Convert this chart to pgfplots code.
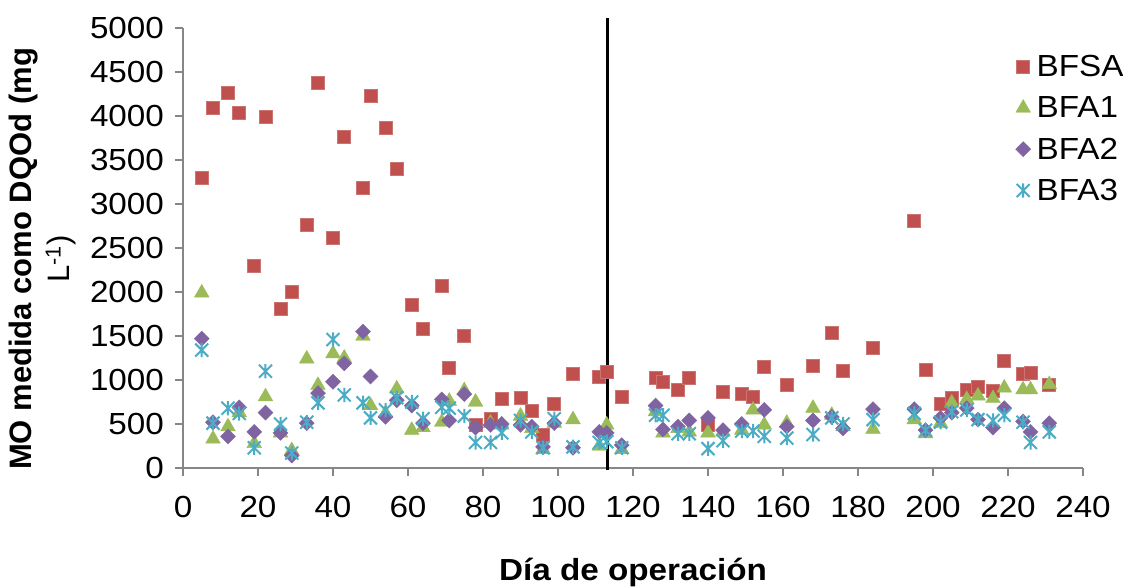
\documentclass[border=0pt]{standalone}
\usepackage{fontspec}
\setmainfont{Liberation Sans}[FakeStretch=1.09]
\newfontfamily\plainfont{Liberation Sans}
\usepackage{pgfplots}
\pgfplotsset{compat=1.18}
\definecolor{cRed}{HTML}{C0504D}
\definecolor{cGreen}{HTML}{9BBB59}
\definecolor{cPurple}{HTML}{8064A2}
\definecolor{cCyan}{HTML}{4BACC6}
\definecolor{axgray}{HTML}{868686}
\pgfdeclareplotmark{xstar}{%
 \pgfpathmoveto{\pgfqpoint{-\pgfplotmarksize}{-\pgfplotmarksize}}%
 \pgfpathlineto{\pgfqpoint{\pgfplotmarksize}{\pgfplotmarksize}}%
 \pgfpathmoveto{\pgfqpoint{-\pgfplotmarksize}{\pgfplotmarksize}}%
 \pgfpathlineto{\pgfqpoint{\pgfplotmarksize}{-\pgfplotmarksize}}%
 \pgfpathmoveto{\pgfqpoint{0pt}{-1.1\pgfplotmarksize}}%
 \pgfpathlineto{\pgfqpoint{0pt}{1.1\pgfplotmarksize}}%
 \pgfusepathqstroke}
\newcommand{\labfont}{\fontsize{30.5}{38}\selectfont}
\newcommand{\ylabfont}{\plainfont\fontsize{31}{38}\selectfont}
\newcommand{\tickfont}{\fontsize{30.5}{36}\selectfont}
\begin{document}
\begin{tikzpicture}
\begin{axis}[
  scale only axis,
  width=900pt, height=440pt,
  xmin=0, xmax=240, ymin=0, ymax=5000,
  xtick={0,20,...,240},
  ytick={0,500,...,5000},
  axis lines=left,
  axis line style={draw=axgray, line width=2pt, -},
  tick align=outside,
  major tick length=8pt,
  tick style={draw=axgray, line width=2pt},
  tick label style={font=\tickfont},
  /pgf/number format/assume math mode=true,
  /pgf/number format/set thousands separator={},
  xticklabel style={yshift=-17pt},
  yticklabel style={xshift=-7.5pt},
  xlabel={\bfseries Día de operación},
  xlabel style={font=\labfont, at={(axis description cs:0.5,0)}, anchor=base, yshift=-112pt, inner sep=0pt},
  ylabel={\bfseries MO medida como DQOd (mg\\L\textsuperscript{-1})},
  ylabel style={font=\ylabfont, align=center, at={(axis description cs:-0.1933,0.475)}, anchor=north, inner sep=0pt},
  clip=false,
  legend style={draw=none, fill=none, inner sep=0pt, font=\tickfont,
    at={(axis description cs:0.925,0.9425)}, anchor=north west, row sep=14.5pt, column sep=4pt},
  legend cell align=left,
  legend image code/.code={\draw[mark repeat=1,#1] plot coordinates {(0pt,0pt)};},
]
\addplot[only marks, mark=square*, mark size=6.5pt, color=cRed, mark options={fill=cRed, draw=cRed!80!white, line width=0.8pt}] coordinates {
(5,3300)(8,4090)(12,4260)(15,4040)(19,2300)(22,3990)(26,1810)(29,2000)(33,2760)(36,4380)(40,2610)(43,3760)(48,3180)(50,4230)(54,3870)(57,3400)(61,1850)(64,1580)(69,2070)(71,1140)(75,1500)(78,490)(82,560)(85,790)(90,800)(93,650)(96,380)(99,730)(104,1070)(111,1030)(113,1090)(117,810)(126,1020)(128,980)(132,890)(135,1020)(140,490)(144,870)(149,840)(152,810)(155,1150)(161,950)(168,1160)(173,1540)(176,1100)(184,1360)(195,2810)(198,1120)(202,730)(205,800)(209,890)(212,920)(216,880)(219,1220)(224,1070)(226,1080)(231,940)
};
\addlegendentry{BFSA}
\addplot[only marks, mark=triangle*, mark size=8.5pt, color=cGreen, mark options={fill=cGreen, draw=cGreen}] coordinates {
(5,1990)(8,330)(12,470)(15,630)(19,280)(22,810)(26,400)(29,200)(33,1240)(36,940)(40,1300)(43,1250)(48,1500)(50,710)(54,620)(57,900)(61,430)(64,460)(69,520)(71,760)(75,880)(78,750)(82,510)(85,490)(90,590)(93,450)(96,210)(99,510)(104,550)(111,250)(113,490)(117,210)(126,640)(128,400)(132,450)(135,410)(140,400)(144,410)(149,430)(152,660)(155,490)(161,510)(168,680)(173,600)(176,470)(184,440)(195,550)(198,390)(202,510)(205,740)(209,780)(212,820)(216,790)(219,910)(224,890)(226,890)(231,950)
};
\addlegendentry{BFA1}
\addplot[only marks, mark=square*, mark size=5.3pt, color=cPurple, mark options={fill=cPurple, draw=cPurple, rotate=45}] coordinates {
(5,1470)(8,520)(12,360)(15,690)(19,410)(22,630)(26,400)(29,140)(33,510)(36,850)(40,980)(43,1190)(48,1550)(50,1040)(54,580)(57,770)(61,710)(64,510)(69,780)(71,540)(75,840)(78,460)(82,490)(85,500)(90,490)(93,470)(96,240)(99,510)(104,230)(111,410)(113,400)(117,260)(126,710)(128,440)(132,470)(135,540)(140,570)(144,430)(149,500)(155,660)(161,470)(168,540)(173,580)(176,450)(184,670)(195,670)(198,430)(202,570)(205,630)(209,680)(212,550)(216,460)(219,680)(224,530)(226,410)(231,510)
};
\addlegendentry{BFA2}
\addplot[only marks, mark=xstar, mark size=6.5pt, color=cCyan, mark options={draw=cCyan, line width=2pt}] coordinates {
(5,1340)(8,510)(12,680)(15,620)(19,230)(22,1100)(26,500)(29,170)(33,520)(36,740)(40,1460)(43,830)(48,740)(50,570)(54,660)(57,800)(61,750)(64,560)(69,690)(71,680)(75,590)(78,290)(82,290)(85,400)(90,540)(93,410)(96,230)(99,560)(104,240)(111,290)(113,300)(117,230)(126,600)(128,600)(132,390)(135,390)(140,220)(144,310)(149,420)(152,420)(155,360)(161,340)(168,380)(173,570)(176,500)(184,550)(195,620)(198,430)(202,520)(205,640)(209,660)(212,550)(216,540)(219,600)(224,520)(226,290)(231,410)
};
\addlegendentry{BFA3}
\addplot[black, line width=3pt, forget plot] coordinates {(113.3,-25)(113.3,5110)};
\end{axis}
\pgfresetboundingbox
\path[use as bounding box] (-183pt,-119pt) rectangle (940pt,468pt);
\end{tikzpicture}
\end{document}
